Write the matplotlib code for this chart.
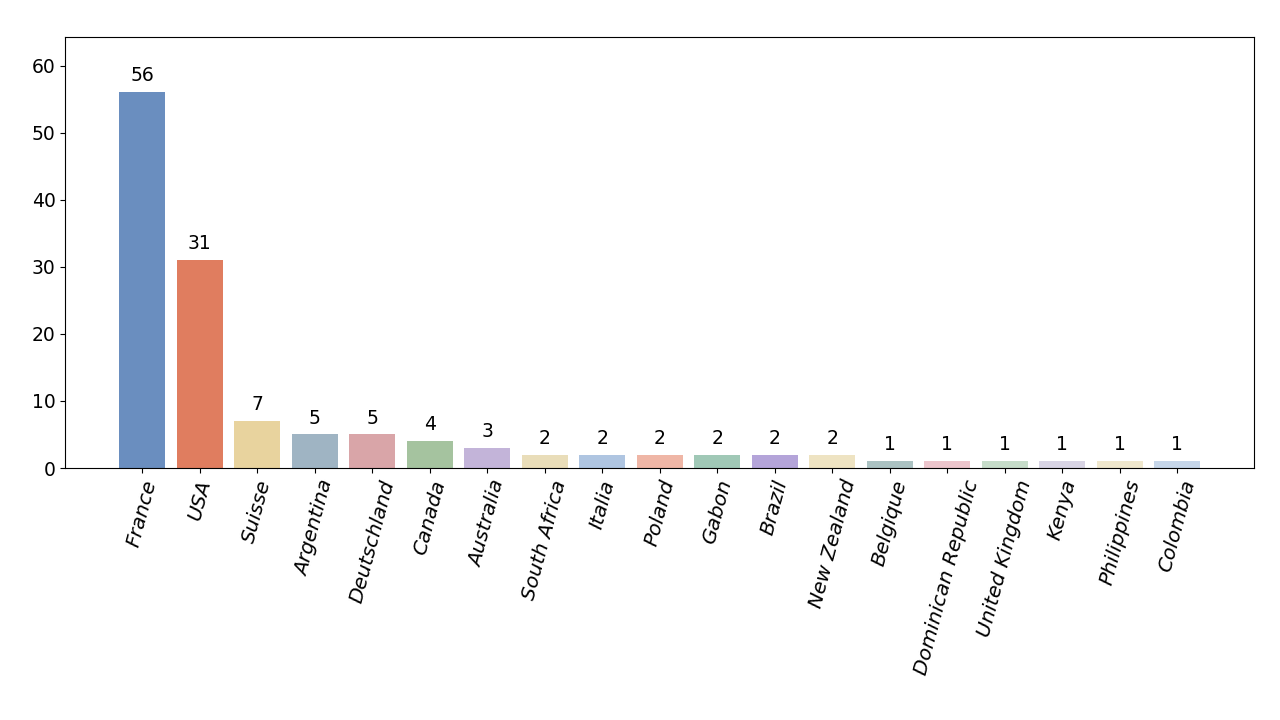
import matplotlib
matplotlib.use("Agg")
import matplotlib.pyplot as plt

# country counts
countries = ["France", "USA", "Suisse", "Argentina", "Deutschland", "Canada",
             "Australia", "South Africa", "Italia", "Poland", "Gabon", "Brazil",
             "New Zealand", "Belgique", "Dominican Republic", "United Kingdom",
             "Kenya", "Philippines", "Colombia"]
counts = [56, 31, 7, 5, 5, 4, 3, 2, 2, 2, 2, 2, 2, 1, 1, 1, 1, 1, 1]
colors = ["#6a8ebf", "#e07d5f", "#e8d39e", "#9fb4c3", "#d9a5a8", "#a5c39f",
          "#c3b4d9", "#e9ddb9", "#afc5e1", "#efb6a6", "#a0c8b6", "#b4a4d9",
          "#eee3c2", "#abc2c2", "#ecc5cc", "#c6dcc9", "#d8d4e4", "#efe7cd",
          "#c6d6e9"]

fig = plt.figure(figsize=(12.8, 7.2), dpi=100)
ax = fig.add_axes([0.051, 0.35, 0.929, 0.599])

x = range(len(countries))
bars = ax.bar(x, counts, color=colors, width=0.8)
for b, v in zip(bars, counts):
    ax.annotate(str(v), (b.get_x() + b.get_width() / 2, v),
                xytext=(0, 5), textcoords="offset points",
                ha="center", va="bottom", fontsize=13.5)

ax.set_xticks(list(x))
ax.set_xticklabels(countries, rotation=75, fontsize=14.5, style="italic")
ax.tick_params(axis="y", labelsize=13.5)
ax.set_ylim(0, 64.3)

fig.savefig("out.png", dpi=100)
